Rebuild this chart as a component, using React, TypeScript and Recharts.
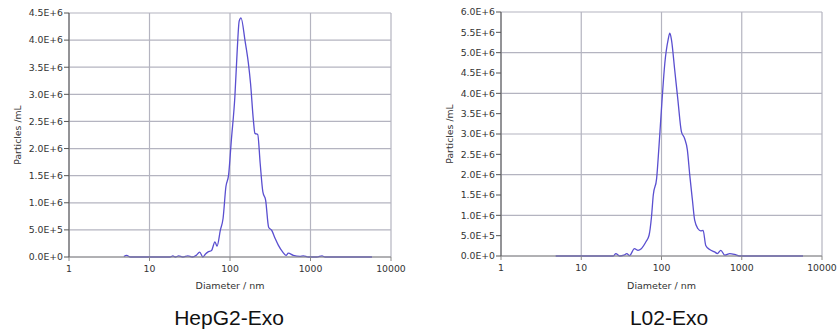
import { LineChart, Line, XAxis, YAxis, CartesianGrid } from 'recharts'

// diameters in nm, concentrations in particles/mL
const HEPG2_DIAMETER = [
  4.8, 5.2, 5.8, 7, 10, 14, 18, 19.5, 21, 23, 26, 30, 34, 38, 42, 46, 50, 53, 59,
  65, 69, 76, 82, 89, 96, 104, 115, 123, 130, 137, 154, 169, 180, 195, 204, 221,
  237, 256, 277, 302, 330, 364, 398, 453, 497, 530, 612, 740, 815, 940, 1200,
  1390, 1520, 2500, 5800,
]
const HEPG2_PARTICLES = [
  0.01e6, 0.03e6, 0.0, 0.0, 0.0, 0.0, 0.0, 0.02e6, 0.0, 0.02e6, 0.0, 0.02e6, 0.0,
  0.03e6, 0.09e6, 0.0, 0.06e6, 0.09e6, 0.12e6, 0.28e6, 0.2e6, 0.5e6, 0.71e6,
  1.3e6, 1.51e6, 2.16e6, 2.96e6, 3.82e6, 4.35e6, 4.41e6, 3.98e6, 3.58e6, 3.2e6,
  2.53e6, 2.28e6, 2.26e6, 1.73e6, 1.2e6, 1.05e6, 0.55e6, 0.49e6, 0.34e6, 0.22e6,
  0.09e6, 0.03e6, 0.07e6, 0.03e6, 0.01e6, 0.02e6, 0.0, 0.0, 0.02e6, 0.0, 0.0, 0.0,
]

const L02_DIAMETER = [
  4.8, 7, 10, 15, 20, 25, 27, 30, 34, 37, 40, 46, 51, 56, 64, 70, 75, 79, 87, 93,
  101, 110, 121, 127, 133, 146, 160, 177, 194, 210, 225, 243, 259, 285, 308, 330,
  356, 398, 459, 497, 549, 614, 709, 814, 940, 1500, 3000, 5800,
]
const L02_PARTICLES = [
  0.0, 0.0, 0.0, 0.0, 0.0, 0.0, 0.06e6, 0.0, 0.02e6, 0.06e6, 0.01e6, 0.18e6,
  0.14e6, 0.18e6, 0.35e6, 0.51e6, 0.96e6, 1.5e6, 1.91e6, 2.69e6, 3.76e6, 4.74e6,
  5.32e6, 5.48e6, 5.32e6, 4.58e6, 3.84e6, 3.06e6, 2.89e6, 2.61e6, 1.99e6, 1.37e6,
  0.88e6, 0.67e6, 0.62e6, 0.63e6, 0.26e6, 0.16e6, 0.1e6, 0.06e6, 0.14e6, 0.02e6,
  0.06e6, 0.04e6, 0.0, 0.0, 0.0, 0.0,
]

const X_TICKS = [1, 10, 100, 1000, 10000]
const HEPG2_Y_TICKS = [0, 5e5, 1e6, 1.5e6, 2e6, 2.5e6, 3e6, 3.5e6, 4e6, 4.5e6]
const L02_Y_TICKS = [
  0, 5e5, 1e6, 1.5e6, 2e6, 2.5e6, 3e6, 3.5e6, 4e6, 4.5e6, 5e6, 5.5e6, 6e6,
]

const LINE_COLOR = '#5a4fd0'
const GRID_COLOR = '#b4b4c0'
const TICK_STYLE = { fontSize: 9.3, fill: '#333', fontFamily: 'DejaVu Sans' }

const sci = (v: number) => {
  if (v === 0) return '0.0E+0'
  const e = Math.floor(Math.log10(v) + 1e-9)
  return `${(v / 10 ** e).toFixed(1)}E+${e}`
}

interface ChartProps {
  diameters: number[]
  particles: number[]
  yTicks: number[]
  width: number
  yAxisWidth: number
  right: number
  top: number
  xAxisHeight: number
  yLabelOffset: number
}

function SizeChart({ diameters, particles, yTicks, width, yAxisWidth, right, top, xAxisHeight, yLabelOffset }: ChartProps) {
  const data = diameters.map((d, i) => ({ d, p: particles[i] }))
  const yMax = yTicks[yTicks.length - 1]
  return (
    <LineChart width={width} height={300} data={data} margin={{ top, right, left: 0, bottom: 0 }}>
      <CartesianGrid stroke={GRID_COLOR} strokeWidth={1.2} />
      <XAxis
        dataKey="d"
        type="number"
        scale="log"
        domain={[1, 10000]}
        ticks={X_TICKS}
        allowDataOverflow
        height={xAxisHeight}
        stroke="#888"
        tickSize={4}
        tickMargin={4}
        tick={TICK_STYLE}
        label={{ value: 'Diameter / nm', position: 'insideBottom', offset: 11, style: { ...TICK_STYLE, fontSize: 9.5 } }}
      />
      <XAxis
        xAxisId="top"
        orientation="top"
        type="number"
        scale="log"
        domain={[1, 10000]}
        ticks={X_TICKS}
        height={0}
        tick={false}
        tickLine={false}
        stroke="#555"
        strokeWidth={1.5}
      />
      <YAxis
        type="number"
        domain={[0, yMax]}
        ticks={yTicks}
        width={yAxisWidth}
        stroke="#555"
        tickSize={5}
        tickMargin={1}
        tick={TICK_STYLE}
        tickFormatter={sci}
        label={{
          value: 'Particles /mL',
          angle: -90,
          position: 'insideLeft',
          offset: yLabelOffset,
          style: { ...TICK_STYLE, textAnchor: 'middle' },
        }}
      />
      <Line type="monotone" dataKey="p" stroke={LINE_COLOR} strokeWidth={1.3} dot={false} isAnimationActive={false} />
    </LineChart>
  )
}

const TITLE_STYLE = {
  position: 'absolute' as const,
  top: 307,
  fontFamily: 'Liberation Sans, Arial, sans-serif',
  fontSize: 21,
  lineHeight: '21px',
  color: '#111',
  textAlign: 'center' as const,
  width: 200,
}

export default function App() {
  return (
    <div style={{ position: 'absolute', left: 0, top: 0, width: 838, height: 333, background: '#fff' }}>
      <div style={{ position: 'absolute', left: 0, top: 0 }}>
        <SizeChart
          diameters={HEPG2_DIAMETER}
          particles={HEPG2_PARTICLES}
          yTicks={HEPG2_Y_TICKS}
          width={420}
          yAxisWidth={69}
          right={29}
          top={13}
          xAxisHeight={43}
          yLabelOffset={18}
        />
      </div>
      <div style={{ position: 'absolute', left: 420, top: 0 }}>
        <SizeChart
          diameters={L02_DIAMETER}
          particles={L02_PARTICLES}
          yTicks={L02_Y_TICKS}
          width={418}
          yAxisWidth={81}
          right={16}
          top={12}
          xAxisHeight={44}
          yLabelOffset={30}
        />
      </div>
      <div style={{ ...TITLE_STYLE, left: 129 }}>HepG2-Exo</div>
      <div style={{ ...TITLE_STYLE, left: 569 }}>L02-Exo</div>
    </div>
  )
}
